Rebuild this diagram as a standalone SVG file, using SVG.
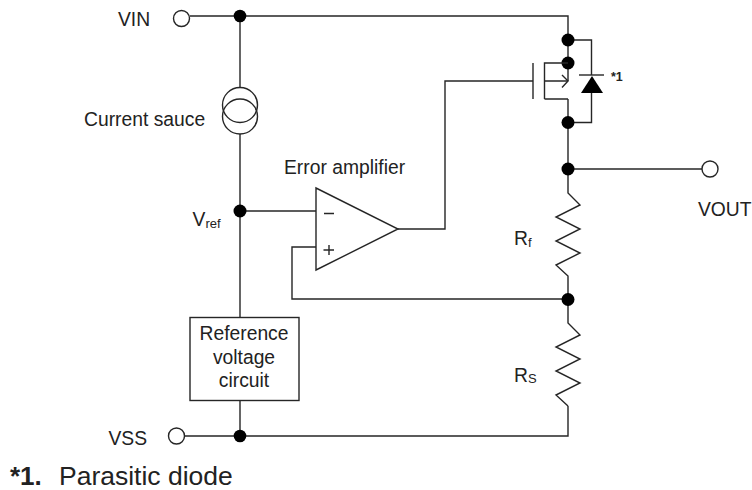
<svg xmlns="http://www.w3.org/2000/svg" width="752" height="490" viewBox="0 0 752 490">
<style>
.w{fill:none;stroke:#262626;stroke-width:1.4;stroke-linejoin:miter}
.s{fill:#fff;stroke:#262626;stroke-width:1.4}
.d{fill:#000}
text{font-family:"Liberation Sans",Arial,sans-serif;font-size:19.300px;fill:#222}
.sub{font-size:13px}
</style>
<rect width="752" height="490" fill="#fff"/>
<g id="connectors">
<path class="w" d="M190 16H568V81"/>
<path class="w" d="M240 16V87M240 134V317M240 400V436"/>
<path class="w" d="M185 436H568V406"/>
<path class="w" d="M240 211H316"/>
<path class="w" d="M316 247H292V299H568"/>
<path class="w" d="M398 229H445V81H533"/>
<path class="w" d="M568 99V193L580 205L556 217L580 229L556 241L580 253L556 265L568 276V323L580 335L556 347L580 359L556 371L580 383L556 395L568 406"/>
<path class="w" d="M568 169H702"/>
<path class="w" d="M568 40H591.500V75M591.500 93V122.500H568"/>
</g>
<g id="vin"><circle class="s" cx="181.500" cy="18.500" r="8"/><text x="118" y="26">VIN</text></g>
<g id="vss"><circle class="s" cx="176.500" cy="436" r="8"/><text x="108.500" y="445">VSS</text></g>
<g id="vout"><circle class="s" cx="710" cy="169" r="8"/><text x="698" y="216">VOUT</text></g>
<g id="junctions">
<circle class="d" cx="240" cy="16" r="6.300"/><circle class="d" cx="240" cy="211" r="6.500"/><circle class="d" cx="240" cy="436" r="6.300"/>
<circle class="d" cx="568" cy="40" r="6.500"/><circle class="d" cx="568" cy="63" r="6.500"/><circle class="d" cx="568" cy="122.500" r="6.500"/><circle class="d" cx="568" cy="169" r="6.500"/><circle class="d" cx="568" cy="299.500" r="6.500"/>
</g>
<g id="current-source"><circle class="w" cx="240" cy="105" r="17.500"/><circle class="w" cx="240" cy="116.500" r="17.500"/><text x="84" y="125.500">Current sauce</text></g>
<g id="vref"><text x="192.500" y="225.500">V<tspan class="sub" dy="2.500">ref</tspan></text></g>
<g id="error-amplifier"><path class="s" d="M316 188V270L398 229Z"/><path class="w" d="M324 213.500H334M323.500 250H334M329 245V255"/><text x="284" y="174">Error amplifier</text></g>
<g id="mosfet"><path class="w" d="M533 63V99"/><path class="w" d="M544.500 99V63H568M544.500 81H568M544.500 99H568"/><path class="w" d="M562 75L568 81L562 87.500"/></g>
<g id="diode"><path class="w" d="M579 75H604"/><path class="d" d="M592 76L581 93H603Z"/><text x="611" y="80.500" style="font-size:12.500px;font-weight:bold">*1</text></g>
<g id="rf"><text x="514" y="245">R<tspan class="sub" dy="2">f</tspan></text></g>
<g id="rs"><text x="514" y="382">R<tspan class="sub" dy="1">S</tspan></text></g>
<g id="reference"><rect class="s" x="190" y="317.500" width="109" height="83"/><g text-anchor="middle"><text x="244" y="340">Reference</text><text x="244" y="363.500">voltage</text><text x="244" y="387">circuit</text></g></g>
<g id="note"><text x="10" y="485" style="font-size:26px;font-weight:bold">*1.</text><text x="59" y="485" style="font-size:26.500px">Parasitic diode</text></g>
</svg>
